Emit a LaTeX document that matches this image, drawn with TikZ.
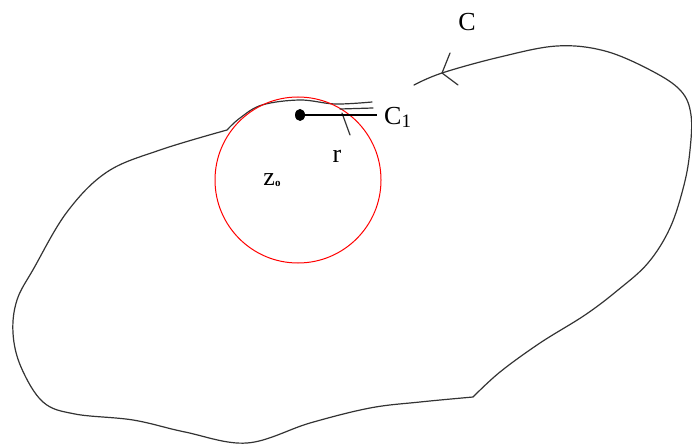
\documentclass[tikz,border=0pt]{standalone}
\usepackage{fontspec}
\setmainfont{Liberation Serif}
\begin{document}
\begin{tikzpicture}[x=1pt, y=-1pt,
    courbe/.style={line width=1.2pt, black!80, line cap=round},
    cercle/.style={line width=1pt, red},
    etiquette/.style={font=\fontsize{26}{28}\selectfont, inner sep=0pt}]
    \useasboundingbox (0,0) rectangle (692,446);

    % Contour C
    \draw[courbe] plot[smooth, tension=0.6] coordinates {(414,85) (442,73) (500,57) (557,46) (605,51) (652,71) (681,91) (691,115) (690,150) (684,185) (670,228) (648,263) (618,290) (585,315) (540,343) (500,372) (473,397)}
        -- plot[smooth, tension=0.6] coordinates {(473,397) (420,402) (370,408) (310,423) (247,443) (185,432) (133,420) (75,414) (43,402) (21,367) (13,333) (17,300) (34,268) (67,212) (107,172) (160,150) (227,130)}
        -- plot[smooth, tension=0.6] coordinates {(227,130) (240,118) (262,105) (300,100) (335,104) (372,102)};
    \coordinate (pointe) at (442,73);
    \draw[courbe] (450,53) -- (pointe) -- (458,85);

    % Cercle C1
    \node[draw, cercle, circle, minimum size=166pt, inner sep=0pt] (c1) at (298,180) {};
    \draw[courbe] (340,109) -- (373,108);
    \draw[courbe] (342,113) -- (350,135);

    % Centre et rayon
    \fill (300,115) circle[x radius=5pt, y radius=6pt];
    \coordinate (centre) at (300,115);
    \coordinate (bout) at (377,115);
    \draw[line width=1.2pt] (centre) -- (bout);

    % Etiquettes
    \node[etiquette] (labelC) at (467,22) {C};
    \node[etiquette, anchor=west] (labelC1) at (384,117) {C\raisebox{-3pt}{\fontsize{19}{19}\selectfont 1}};
    \node[etiquette] (labelr) at (337,156) {r};
    \node[etiquette] (labelz) at (272,180) {z\raisebox{-1pt}{\fontsize{11}{11}\selectfont\bfseries o}};
\end{tikzpicture}
\end{document}
